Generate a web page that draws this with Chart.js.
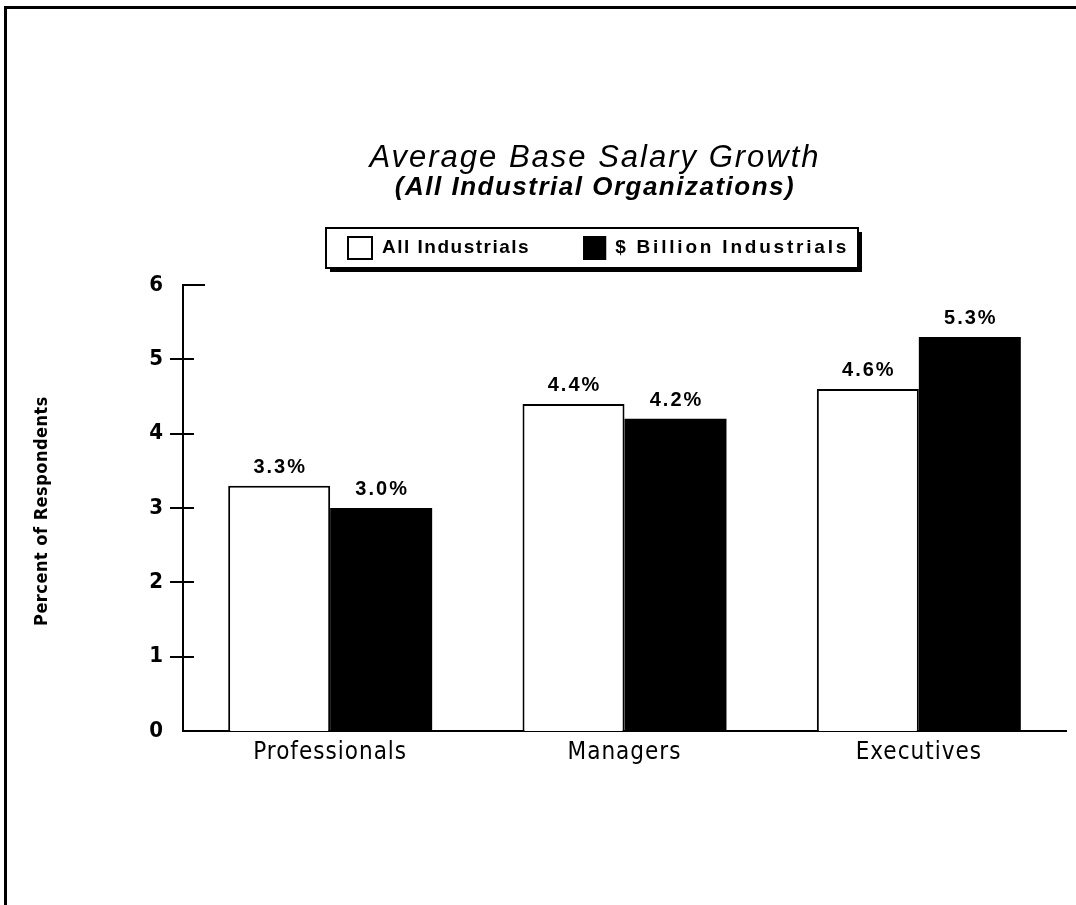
<!DOCTYPE html>
<html>
<head>
<meta charset="utf-8">
<script src="https://cdn.jsdelivr.net/npm/chart.js@4.4.0/dist/chart.umd.min.js"></script>
<style>
html,body{margin:0;padding:0;background:#fff;}
#wrap{width:1076px;height:905px;position:relative;}
canvas{display:block;}
</style>
</head>
<body>
<div id="wrap"><canvas id="c" width="1076" height="905"></canvas></div>
<script>
// ---- data ----
const categories = ['Professionals', 'Managers', 'Executives'];
const allIndustrials = [3.3, 4.4, 4.6];
const billionIndustrials = [3.0, 4.2, 5.3];
const seriesLabels = ['All Industrials', '$ Billion Industrials'];
const yTicks = [0, 1, 2, 3, 4, 5, 6];
const titleText = 'Average Base Salary Growth';
const subtitleText = '(All Industrial Organizations)';
const yTitleText = 'Percent of Respondents';

const SANS = '"Liberation Sans", Arial, Helvetica, sans-serif';
const NARROW = '"Liberation Sans Narrow", "DejaVu Sans Condensed", "Arial Narrow", sans-serif';

function withSpacing(obj, method, px) {
  if (!obj || obj['_sp_' + method]) return;
  const orig = obj[method];
  obj[method] = function (...args) {
    const c = this.ctx;
    const prev = c.letterSpacing;
    c.letterSpacing = px;
    const r = orig.apply(this, args);
    c.letterSpacing = prev;
    return r;
  };
  obj['_sp_' + method] = true;
}

const spacingPlugin = {
  id: 'spacing',
  afterLayout(chart) {
    chart.boxes.forEach(b => {
      const t = b.options && b.options.text;
      if (t === titleText) withSpacing(b, 'draw', '2px');
      else if (t === subtitleText) withSpacing(b, 'draw', '1.5px');
    });
    withSpacing(chart.scales.x, 'drawLabels', '1px');
  }
};

const framePlugin = {
  id: 'frame',
  beforeDraw(chart) {
    const ctx = chart.ctx;
    ctx.save();
    ctx.fillStyle = '#fff';
    ctx.fillRect(0, 0, chart.width, chart.height);
    ctx.strokeStyle = '#000';
    ctx.lineWidth = 3;
    ctx.beginPath();
    ctx.moveTo(4, 7.5);
    ctx.lineTo(chart.width, 7.5);
    ctx.moveTo(5.5, 6);
    ctx.lineTo(5.5, chart.height);
    ctx.stroke();
    ctx.restore();
  }
};

const valueLabelPlugin = {
  id: 'valueLabels',
  afterDatasetsDraw(chart) {
    const ctx = chart.ctx;
    ctx.save();
    ctx.fillStyle = '#000';
    ctx.font = 'bold 20px ' + SANS;
    ctx.letterSpacing = '2px';
    ctx.textAlign = 'center';
    ctx.textBaseline = 'alphabetic';
    chart.data.datasets.forEach((ds, di) => {
      const meta = chart.getDatasetMeta(di);
      meta.data.forEach((el, i) => {
        ctx.fillText(ds.data[i].toFixed(1) + '%', el.x + 1, el.y - 13);
      });
    });
    ctx.restore();
  }
};

const axisDecorPlugin = {
  id: 'axisDecor',
  afterDraw(chart) {
    const ctx = chart.ctx;
    const y = chart.scales.y;
    const x0 = chart.chartArea.left;
    ctx.save();
    ctx.strokeStyle = '#000';
    ctx.lineWidth = 2;
    ctx.beginPath();
    yTicks.forEach(v => {
      const py = Math.round(y.getPixelForValue(v));
      if (v === yTicks[yTicks.length - 1]) {
        ctx.moveTo(x0 - 1, py);
        ctx.lineTo(x0 + 22, py);
      } else if (v !== 0) {
        ctx.moveTo(x0 - 13, py);
        ctx.lineTo(x0 + 11, py);
      }
    });
    ctx.stroke();

    // y axis title
    ctx.fillStyle = '#000';
    ctx.font = 'bold 18px ' + NARROW;
    ctx.letterSpacing = '0.5px';
    ctx.textAlign = 'center';
    ctx.textBaseline = 'middle';
    ctx.translate(42, (chart.chartArea.top + chart.chartArea.bottom) / 2 + 3);
    ctx.rotate(-Math.PI / 2);
    ctx.fillText(yTitleText, 0, 0);
    ctx.restore();
  }
};

const legendBoxPlugin = {
  id: 'legendBox',
  afterDraw(chart) {
    const ctx = chart.ctx;
    const bx = 326, by = 228, bw = 532, bh = 40;
    ctx.save();
    ctx.fillStyle = '#000';
    ctx.fillRect(bx + 4, by + 4, bw, bh);
    ctx.fillStyle = '#fff';
    ctx.fillRect(bx, by, bw, bh);
    ctx.strokeStyle = '#000';
    ctx.lineWidth = 2;
    ctx.strokeRect(bx, by, bw, bh);

    ctx.font = 'bold 19px ' + SANS;
    ctx.textBaseline = 'middle';
    ctx.textAlign = 'left';
    const spacings = ['1.5px', '2.8px'];
    let x = 347;
    const cy = by + bh / 2;
    chart.data.datasets.forEach((ds, i) => {
      const w = i === 0 ? 26 : 23;
      ctx.fillStyle = ds.backgroundColor;
      ctx.fillRect(x, cy - 12, w, 24);
      ctx.strokeStyle = '#000';
      ctx.lineWidth = 2;
      ctx.strokeRect(x + 1, cy - 11, w - 2, 22);
      ctx.fillStyle = '#000';
      ctx.letterSpacing = spacings[i] || '1.5px';
      const tx = x + w + 9;
      ctx.fillText(ds.label, tx, cy);
      x = tx + ctx.measureText(ds.label).width + 53;
    });
    ctx.restore();
  }
};

new Chart(document.getElementById('c'), {
  type: 'bar',
  data: {
    labels: categories,
    datasets: [
      {
        label: seriesLabels[0],
        data: allIndustrials,
        backgroundColor: '#ffffff',
        borderColor: '#000000',
        borderWidth: 2,
        borderSkipped: 'bottom'
      },
      {
        label: seriesLabels[1],
        data: billionIndustrials,
        backgroundColor: '#000000',
        borderColor: '#000000',
        borderWidth: 0
      }
    ]
  },
  options: {
    responsive: false,
    devicePixelRatio: 1,
    animation: false,
    layout: { padding: { left: 124, right: 10, top: 0, bottom: 134 } },
    datasets: { bar: { categoryPercentage: 0.693, barPercentage: 1.0 } },
    plugins: {
      legend: { display: false },
      tooltip: { enabled: false },
      title: {
        display: true,
        text: titleText,
        color: '#000',
        font: { family: SANS, size: 31, style: 'italic', weight: 'normal', lineHeight: 1 },
        padding: { top: 143, bottom: 0 }
      },
      subtitle: {
        display: true,
        text: subtitleText,
        color: '#000',
        font: { family: SANS, size: 26, style: 'italic', weight: 'bold', lineHeight: 1 },
        padding: { top: 1, bottom: 84 }
      }
    },
    scales: {
      x: {
        type: 'category',
        grid: { display: false, drawTicks: false },
        border: { display: true, color: '#000', width: 2 },
        ticks: { color: '#000', font: { family: NARROW, size: 24, lineHeight: 1.2 }, padding: 7 },
        afterFit(s) { s.height = 40; }
      },
      y: {
        min: 0,
        max: 6,
        grid: { display: false, drawTicks: false },
        border: { display: true, color: '#000', width: 2 },
        ticks: { color: '#000', font: { family: NARROW, size: 22, weight: 'bold' }, padding: 20, stepSize: 1 },
        afterBuildTicks(s) { s.ticks = yTicks.map(v => ({ value: v })); },
        afterFit(s) { s.width = 59; }
      }
    }
  },
  plugins: [framePlugin, spacingPlugin, valueLabelPlugin, axisDecorPlugin, legendBoxPlugin]
});
</script>
</body>
</html>
